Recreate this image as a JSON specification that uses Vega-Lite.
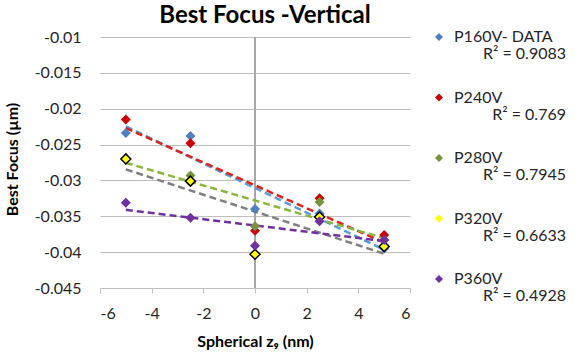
{
  "$schema": "https://vega.github.io/schema/vega-lite/v6.json",
  "width": 310,
  "height": 251,
  "autosize": {"type": "none"},
  "padding": {"left": 100, "top": 37, "right": 165, "bottom": 70},
  "background": "white",
  "title": {
    "text": "Best Focus -Vertical",
    "font": "Lato",
    "fontSize": 24,
    "fontWeight": "bold",
    "color": "#000000",
    "anchor": "middle",
    "frame": "group",
    "offset": 1,
    "dx": 10
  },
  "config": {
    "view": {"stroke": null},
    "font": "Lato"
  },
  "data": {
    "values": [
      {"series": "P160V- DATA", "x": -5, "y": -0.0234},
      {"series": "P160V- DATA", "x": -2.5, "y": -0.0238},
      {"series": "P160V- DATA", "x": 0, "y": -0.0340},
      {"series": "P160V- DATA", "x": 2.5, "y": -0.0346},
      {"series": "P160V- DATA", "x": 5, "y": -0.0395},
      {"series": "P240V", "x": -5, "y": -0.0215},
      {"series": "P240V", "x": -2.5, "y": -0.0248},
      {"series": "P240V", "x": 0, "y": -0.0370},
      {"series": "P240V", "x": 2.5, "y": -0.0325},
      {"series": "P240V", "x": 5, "y": -0.0376},
      {"series": "P280V", "x": -5, "y": -0.0270},
      {"series": "P280V", "x": -2.5, "y": -0.0293},
      {"series": "P280V", "x": 0, "y": -0.0364},
      {"series": "P280V", "x": 2.5, "y": -0.0330},
      {"series": "P280V", "x": 5, "y": -0.0383},
      {"series": "P320V", "x": -5, "y": -0.0270},
      {"series": "P320V", "x": -2.5, "y": -0.0301},
      {"series": "P320V", "x": 0, "y": -0.0403},
      {"series": "P320V", "x": 2.5, "y": -0.0351},
      {"series": "P320V", "x": 5, "y": -0.0392},
      {"series": "P360V", "x": -5, "y": -0.0331},
      {"series": "P360V", "x": -2.5, "y": -0.0352},
      {"series": "P360V", "x": 0, "y": -0.0391},
      {"series": "P360V", "x": 2.5, "y": -0.0357},
      {"series": "P360V", "x": 5, "y": -0.0383}
    ]
  },
  "encoding": {
    "x": {
      "field": "x",
      "type": "quantitative",
      "scale": {"domain": [-6, 6], "nice": false, "zero": false},
      "axis": {
        "title": "Spherical z₉ (nm)",
        "values": [-6, -4, -2, 0, 2, 4, 6],
        "labelExpr": "'' + datum.value",
        "grid": false,
        "domain": true,
        "domainColor": "#bfbfbf",
        "ticks": true,
        "tickColor": "#bfbfbf",
        "tickSize": 5,
        "labelPadding": 12,
        "labelFont": "Lato",
        "labelFontSize": 16,
        "labelColor": "#262626",
        "titleFont": "Lato",
        "titleFontSize": 16,
        "titleFontWeight": "bold",
        "titleColor": "#000000",
        "titlePadding": 12
      }
    },
    "y": {
      "field": "y",
      "type": "quantitative",
      "scale": {"domain": [-0.045, -0.01], "nice": false, "zero": false},
      "axis": {
        "title": "Best Focus (µm)",
        "values": [-0.045, -0.04, -0.035, -0.03, -0.025, -0.02, -0.015, -0.01],
        "labelExpr": "'' + datum.value",
        "grid": true,
        "gridColor": "#bfbfbf",
        "gridWidth": 1,
        "domain": false,
        "ticks": false,
        "labelPadding": 19,
        "labelFont": "Lato",
        "labelFontSize": 16,
        "labelColor": "#262626",
        "titleFont": "Lato",
        "titleFontSize": 16,
        "titleFontWeight": "bold",
        "titleColor": "#000000",
        "titleX": -80,
        "titleY": 122
      }
    }
  },
  "layer": [
    {
      "mark": {"type": "rule", "color": "#a6a6a6", "strokeWidth": 1},
      "encoding": {"x": {"datum": 0}, "y": {"datum": -0.045}, "y2": {"datum": -0.01}}
    },
    {
      "transform": [
        {"regression": "y", "on": "x", "groupby": ["series"]}
      ],
      "mark": {"type": "line", "strokeDash": [7, 4], "strokeWidth": 2.5},
      "encoding": {
        "stroke": {
          "field": "series",
          "type": "nominal",
          "scale": {
            "domain": ["P360V", "P320V", "P280V", "P240V", "P160V- DATA"],
            "range": ["#7030a0", "#7f7f7f", "#8cb43c", "#e0201c", "#5b9bd5"]
          },
          "legend": {
            "title": null,
            "orient": "none",
            "legendX": 450,
            "legendY": 9,
            "padding": 0,
            "values": ["P160V- DATA", "P240V", "P280V", "P320V", "P360V"],
            "symbolSize": 1,
            "symbolOpacity": 0,
            "labelOffset": 0,
            "labelAlign": "right",
            "labelFont": "Lato",
            "labelFontSize": 16,
            "labelColor": "#262626",
            "labelLimit": 300,
            "rowPadding": 44.5,
            "labelExpr": "datum.label == 'P160V- DATA' ? 'R² = 0.9083' : datum.label == 'P240V' ? 'R² = 0.769' : datum.label == 'P280V' ? 'R² = 0.7945' : datum.label == 'P320V' ? 'R² = 0.6633' : 'R² = 0.4928'"
          }
        }
      }
    },
    {
      "mark": {"type": "point", "shape": "diamond", "filled": true, "size": 100, "strokeWidth": 1.5, "opacity": 1},
      "encoding": {
        "color": {
          "field": "series",
          "type": "nominal",
          "scale": {
            "domain": ["P160V- DATA", "P240V", "P280V", "P320V", "P360V"],
            "range": ["#4f81bd", "#cc0000", "#77933c", "#ffff00", "#7030a0"]
          },
          "legend": {
            "title": null,
            "orient": "none",
            "legendX": 331,
            "legendY": -8,
            "padding": 0,
            "symbolType": "diamond",
            "symbolSize": 64,
            "labelOffset": 7,
            "labelFont": "Lato",
            "labelFontSize": 16,
            "labelColor": "#262626",
            "labelLimit": 300,
            "rowPadding": 44.5
          }
        },
        "stroke": {
          "condition": {"test": "datum.series == 'P320V'", "value": "#000000"},
          "value": null
        }
      }
    }
  ]
}
